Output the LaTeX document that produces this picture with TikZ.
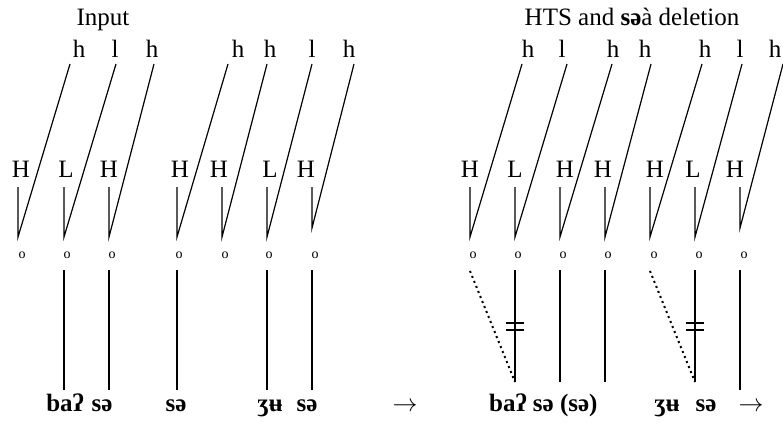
\documentclass[tikz,border=0pt]{standalone}
\usepackage{fontspec}
\setmainfont{Liberation Serif}
\usetikzlibrary{calc}
\tikzset{
    tone/.style =   {anchor=base,
                    inner sep=0pt,
                    text=black,
                    font=\fontsize{25}{30}\selectfont},
    slot/.style =   {anchor=base,
                    inner sep=0pt,
                    text=black,
                    font=\fontsize{14}{16}\selectfont},
    seg/.style =    {anchor=base,
                    inner sep=0pt,
                    text=black,
                    font=\fontsize{25}{30}\selectfont\bfseries},
    arr/.style =    {anchor=base,
                    inner sep=0pt,
                    text=black,
                    font=\fontsize{26}{30}\selectfont},
    -,
    assoc/.style =  {draw=black,
                    line width=1.2pt},
    delink/.style = {draw=black,
                    line width=2pt,
                    dash pattern=on 2pt off 3.4pt},
    cut/.style =    {draw=black,
                    line width=1.3pt}
}

\begin{document}
\begin{tikzpicture}[x=1pt,y=-1pt]
                \useasboundingbox (0,0) rectangle (783,423);
                % headings
                \node[tone]     (inp)   at (103,25)     {Input};
                \node[tone]     (hts)   at (632,25)     {HTS and \textbf{sə}à deletion};
                % input: upper tones
                \node[tone]     (hA1)   at (79,57)      {h};
                \node[tone]     (hA2)   at (115,57)     {l};
                \node[tone]     (hA3)   at (152,57)     {h};
                \node[tone]     (hA4)   at (238,57)     {h};
                \node[tone]     (hA5)   at (270,57)     {h};
                \node[tone]     (hA6)   at (312,57)     {l};
                \node[tone]     (hA7)   at (349,57)     {h};
                % input: lower tones
                \node[tone]     (TA1)   at (21,177)     {H};
                \node[tone]     (TA2)   at (66,177)     {L};
                \node[tone]     (TA3)   at (109,177)    {H};
                \node[tone]     (TA4)   at (180,177)    {H};
                \node[tone]     (TA5)   at (219,177)    {H};
                \node[tone]     (TA6)   at (270,177)    {L};
                \node[tone]     (TA7)   at (306,177)    {H};
                % input: tone bearing slots
                \node[slot]     (oA1)   at (22,258)     {o};
                \node[slot]     (oA2)   at (67,258)     {o};
                \node[slot]     (oA3)   at (112,258)    {o};
                \node[slot]     (oA4)   at (179,258)    {o};
                \node[slot]     (oA5)   at (225,258)    {o};
                \node[slot]     (oA6)   at (269,258)    {o};
                \node[slot]     (oA7)   at (315,258)    {o};
                % input: segments
                \node[seg]      (bA)    at (65,411)     {baʔ};
                \node[seg]      (sA1)   at (102,411)    {sə};
                \node[seg]      (sA2)   at (176,411)    {sə};
                \node[seg]      (zA)    at (270,411)    {ʒʉ};
                \node[seg]      (sA3)   at (307,411)    {sə};
                \node[arr]      (arA)   at (405,411)    {$\rightarrow$};
                % input: tone lines
                \coordinate     (kA1)   at (18,187);    \coordinate (vA1) at (18,237);  \coordinate (uA1) at (70,64);
                \coordinate     (kA2)   at (64,187);    \coordinate (vA2) at (64,237);  \coordinate (uA2) at (116,64);
                \coordinate     (kA3)   at (109,187);   \coordinate (vA3) at (109,237); \coordinate (uA3) at (154,64);
                \coordinate     (kA4)   at (177,187);   \coordinate (vA4) at (177,237); \coordinate (uA4) at (228,64);
                \coordinate     (kA5)   at (222,187);   \coordinate (vA5) at (222,237); \coordinate (uA5) at (267,64);
                \coordinate     (kA6)   at (267,187);   \coordinate (vA6) at (267,237); \coordinate (uA6) at (312,64);
                \coordinate     (kA7)   at (312,187);   \coordinate (vA7) at (312,228); \coordinate (uA7) at (354,64);
                \path [assoc]   (kA1) -- (vA1) -- (uA1)
                                (kA2) -- (vA2) -- (uA2)
                                (kA3) -- (vA3) -- (uA3)
                                (kA4) -- (vA4) -- (uA4)
                                (kA5) -- (vA5) -- (uA5)
                                (kA6) -- (vA6) -- (uA6)
                                (kA7) -- (vA7) -- (uA7);
                % input: segment lines
                \coordinate     (gA2)   at (64,270);    \coordinate (eA2) at (64,390);
                \coordinate     (gA3)   at (109,270);   \coordinate (eA3) at (109,390);
                \coordinate     (gA4)   at (177,270);   \coordinate (eA4) at (177,390);
                \coordinate     (gA6)   at (267,270);   \coordinate (eA6) at (267,390);
                \coordinate     (gA7)   at (312,270);   \coordinate (eA7) at (312,390);
                \path [assoc]   (gA2) -- (eA2)
                                (gA3) -- (eA3)
                                (gA4) -- (eA4)
                                (gA6) -- (eA6)
                                (gA7) -- (eA7);
                % output: upper tones
                \node[tone]     (hB1)   at (528,57)     {h};
                \node[tone]     (hB2)   at (562,57)     {l};
                \node[tone]     (hB3)   at (613,57)     {h};
                \node[tone]     (hB4)   at (645,57)     {h};
                \node[tone]     (hB5)   at (705,57)     {h};
                \node[tone]     (hB6)   at (740,57)     {l};
                \node[tone]     (hB7)   at (775,57)     {h};
                % output: lower tones
                \node[tone]     (TB1)   at (470,177)    {H};
                \node[tone]     (TB2)   at (515,177)    {L};
                \node[tone]     (TB3)   at (565,177)    {H};
                \node[tone]     (TB4)   at (603,177)    {H};
                \node[tone]     (TB5)   at (655,177)    {H};
                \node[tone]     (TB6)   at (693,177)    {L};
                \node[tone]     (TB7)   at (735,177)    {H};
                % output: tone bearing slots
                \node[slot]     (oB1)   at (473,258)    {o};
                \node[slot]     (oB2)   at (518,258)    {o};
                \node[slot]     (oB3)   at (563,258)    {o};
                \node[slot]     (oB4)   at (608,258)    {o};
                \node[slot]     (oB5)   at (654,258)    {o};
                \node[slot]     (oB6)   at (699,258)    {o};
                \node[slot]     (oB7)   at (744,258)    {o};
                % output: segments
                \node[seg,anchor=base west] (bB) at (489,411) {baʔ sə (sə)};
                \node[seg]      (zB)    at (667,411)    {ʒʉ};
                \node[seg]      (sB)    at (706,411)    {sə};
                \node[arr]      (arB)   at (751,411)    {$\rightarrow$};
                % output: tone lines
                \coordinate     (kB1)   at (470,187);   \coordinate (vB1) at (470,237); \coordinate (uB1) at (522,64);
                \coordinate     (kB2)   at (515,187);   \coordinate (vB2) at (515,237); \coordinate (uB2) at (567,64);
                \coordinate     (kB3)   at (560,187);   \coordinate (vB3) at (560,237); \coordinate (uB3) at (612,64);
                \coordinate     (kB4)   at (605,187);   \coordinate (vB4) at (605,237); \coordinate (uB4) at (651,64);
                \coordinate     (kB5)   at (650,187);   \coordinate (vB5) at (650,237); \coordinate (uB5) at (702,64);
                \coordinate     (kB6)   at (695,187);   \coordinate (vB6) at (695,237); \coordinate (uB6) at (742,64);
                \coordinate     (kB7)   at (740,187);   \coordinate (vB7) at (740,228); \coordinate (uB7) at (783,64);
                \path [assoc]   (kB1) -- (vB1) -- (uB1)
                                (kB2) -- (vB2) -- (uB2)
                                (kB3) -- (vB3) -- (uB3)
                                (kB4) -- (vB4) -- (uB4)
                                (kB5) -- (vB5) -- (uB5)
                                (kB6) -- (vB6) -- (uB6)
                                (kB7) -- (vB7) -- (uB7);
                % output: segment lines
                \coordinate     (gB1)   at (470,271);
                \coordinate     (gB2)   at (515,270);   \coordinate (eB2) at (515,382);
                \coordinate     (gB3)   at (560,270);   \coordinate (eB3) at (560,382);
                \coordinate     (gB4)   at (605,270);   \coordinate (eB4) at (605,382);
                \coordinate     (gB5)   at (650,271);
                \coordinate     (gB6)   at (695,270);   \coordinate (eB6) at (695,382);
                \coordinate     (gB7)   at (740,270);   \coordinate (eB7) at (740,390);
                \path [assoc]   (gB2) -- (eB2) coordinate[pos=.505] (mB2)
                                (gB3) -- (eB3)
                                (gB4) -- (eB4)
                                (gB6) -- (eB6) coordinate[pos=.505] (mB6)
                                (gB7) -- (eB7);
                \path [delink]  (gB1) -- (eB2)
                                (gB5) -- (eB6);
                % delinking marks
                \path [cut]     ($(mB2)+(-9,-3.5)$) -- ++(18,0)
                                ($(mB2)+(-9,3.5)$)  -- ++(18,0)
                                ($(mB6)+(-9,-3.5)$) -- ++(18,0)
                                ($(mB6)+(-9,3.5)$)  -- ++(18,0);
        \end{tikzpicture}
\end{document}
